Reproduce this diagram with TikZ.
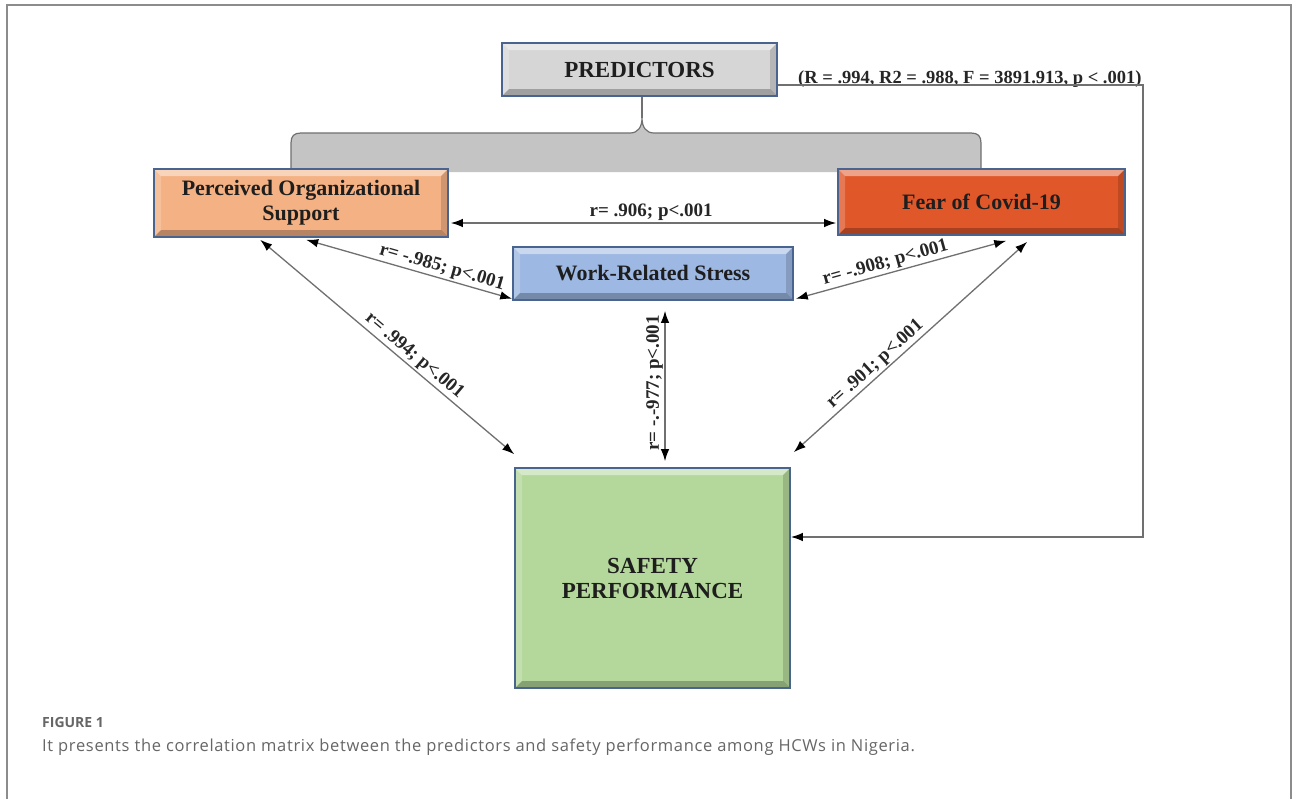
\documentclass[tikz,border=0pt]{standalone}
\usepackage{fontspec}
\setmainfont{Liberation Serif}
\newfontfamily\capfont{Open Sans}
\newfontfamily\capfontwide[LetterSpace=4]{Open Sans}
\usetikzlibrary{arrows.meta,calc}
\definecolor{boxline}{HTML}{4A6490}
\definecolor{txt}{HTML}{1E1E1E}
\definecolor{labtxt}{HTML}{262626}
\definecolor{arrline}{HTML}{707070}
\definecolor{predfill}{HTML}{D6D6D6}
\definecolor{posfill}{HTML}{F4B183}
\definecolor{fearfill}{HTML}{E0582A}
\definecolor{wrsfill}{HTML}{9DB8E2}
\definecolor{spfill}{HTML}{B4D89B}
\definecolor{bracefill}{HTML}{C4C4C4}
\definecolor{braceline}{HTML}{707070}
\definecolor{capgray}{HTML}{666666}
\definecolor{framegray}{HTML}{8C8C8C}
\tikzset{
  bevel/.style={path picture={
    \fill[white,opacity=.45] let \p1=(path picture bounding box.south west), \p2=(path picture bounding box.north east) in
      (\x1,\y2) -- (\x2,\y2) -- ({\x2-#1},{\y2-#1}) -- ({\x1+#1},{\y2-#1}) -- cycle;
    \fill[white,opacity=.2] let \p1=(path picture bounding box.south west), \p2=(path picture bounding box.north east) in
      (\x1,\y2) -- (\x1,\y1) -- ({\x1+#1},{\y1+#1}) -- ({\x1+#1},{\y2-#1}) -- cycle;
    \fill[black,opacity=.15] let \p1=(path picture bounding box.south west), \p2=(path picture bounding box.north east) in
      (\x2,\y2) -- (\x2,\y1) -- ({\x2-#1},{\y1+#1}) -- ({\x2-#1},{\y2-#1}) -- cycle;
    \fill[black,opacity=.25] let \p1=(path picture bounding box.south west), \p2=(path picture bounding box.north east) in
      (\x1,\y1) -- (\x2,\y1) -- ({\x2-#1},{\y1+#1}) -- ({\x1+#1},{\y1+#1}) -- cycle;
  }},
  box/.style={draw=boxline, line width=1.6pt, inner sep=2pt, align=center, text=txt,
    font=\fontsize{22}{25}\selectfont\bfseries, bevel=7pt},
  biarrow/.style={draw=arrline, line width=1.3pt,
    {Latex[length=12pt,width=8.5pt,color=black]}-{Latex[length=12pt,width=8.5pt,color=black]}},
  onearrow/.style={draw=arrline, line width=1.4pt, -{Latex[length=12pt,width=8.5pt,color=black]}},
  lab/.style={font=\fontsize{19}{21}\selectfont\bfseries, text=labtxt, inner sep=1.5pt},
}
\begin{document}
\begin{tikzpicture}[x=1pt,y=-1pt]
\useasboundingbox (0,0) rectangle (1293,798);
\fill[white] (0,0) rectangle (1293,798);
% frame
\draw[framegray, line width=1.3pt] (7,805) -- (7,5) -- (1291,5) -- (1291,805);

% brace
\coordinate (tip) at (642,118);
\filldraw[fill=bracefill, draw=braceline, line width=1.2pt]
  (291,172) -- (291,143) .. controls (291,136) and (294,133) .. (301,133) -- (630,133)
  .. controls (638,133) and (642,127) .. (tip)
  .. controls (642,127) and (646,133) .. (654,133) -- (971,133)
  .. controls (978,133) and (981,136) .. (981,143) -- (981,172);

% nodes
\node[box, fill=predfill, minimum width=275pt, minimum height=53pt,
  font=\fontsize{23}{26}\selectfont\bfseries] (pred) at (639.5,69.5) {PREDICTORS};
\node[box, fill=posfill, minimum width=294pt, minimum height=68pt] (pos) at (301,203) {Perceived Organizational\\Support};
\node[box, fill=fearfill, minimum width=287pt, minimum height=66pt] (fear) at (981.5,202) {Fear of Covid-19};
\node[box, fill=wrsfill, minimum width=280pt, minimum height=53pt] (wrs) at (653,273.5) {Work-Related Stress};
\node[box, fill=spfill, minimum width=275pt, minimum height=220pt,
  font=\fontsize{23}{25}\selectfont\bfseries] (sp) at (652.5,578) {SAFETY\\PERFORMANCE};

\draw[braceline, line width=1.2pt] (pred.south -| tip) -- (tip);

% regression path
\coordinate (rt) at (1143,85);
\coordinate (rb) at (1143,537);
\node[anchor=base west, inner sep=0pt, font=\fontsize{18.5}{20}\selectfont\bfseries, text=labtxt] (stats) at (798,83)
  {(R = .994, R2 = .988, F = 3891.913, p < .001)};
\draw[onearrow] ($(pred.east)+(0,15.5)$) -- (rt) -- (rb) -- (rb -| sp.east);

% correlations
\draw[biarrow] ($(pos.east)+(2,20)$) -- node[lab, above, pos=0.52] {r= .906; p<.001} ($(fear.west)+(-1,21)$);
\draw[biarrow] ($(pos.south west)+(153,2)$) -- node[lab, above, sloped, pos=0.645] {r= -.985; p<.001} ($(wrs.south west)+(0,-2)$);
\draw[biarrow] ($(pos.south west)+(107,2)$) -- node[lab, above, sloped, pos=0.58] {r= .994; p<.001} ($(sp.north west)+(0,-13)$);
\draw[biarrow] ($(sp.north)+(12.5,-6)$) -- node[lab, above, sloped, pos=0.52] {r= -.-977; p<.001} ($(wrs.south)+(12,10)$);
\draw[biarrow] ($(wrs.south east)+(2,-2)$) -- node[lab, above, sloped, pos=0.44] {r= -.908; p<.001} ($(fear.south west)+(169,5)$);
\draw[biarrow] ($(sp.north east)+(3,-15)$) -- node[lab, above, sloped, pos=0.38] {r= .901; p<.001} ($(fear.south west)+(190,6)$);

% caption
\node[anchor=base west, inner sep=0pt, font=\capfont\fontsize{14}{16}\selectfont\bfseries, text=capgray] (fig) at (42,727) {FIGURE 1};
\node[anchor=base west, inner sep=0pt, font=\capfontwide\fontsize{16.5}{18}\selectfont, text=capgray] (cap) at (42,751)
  {It presents the correlation matrix between the predictors and safety performance among HCWs in Nigeria.};
\end{tikzpicture}
\end{document}
